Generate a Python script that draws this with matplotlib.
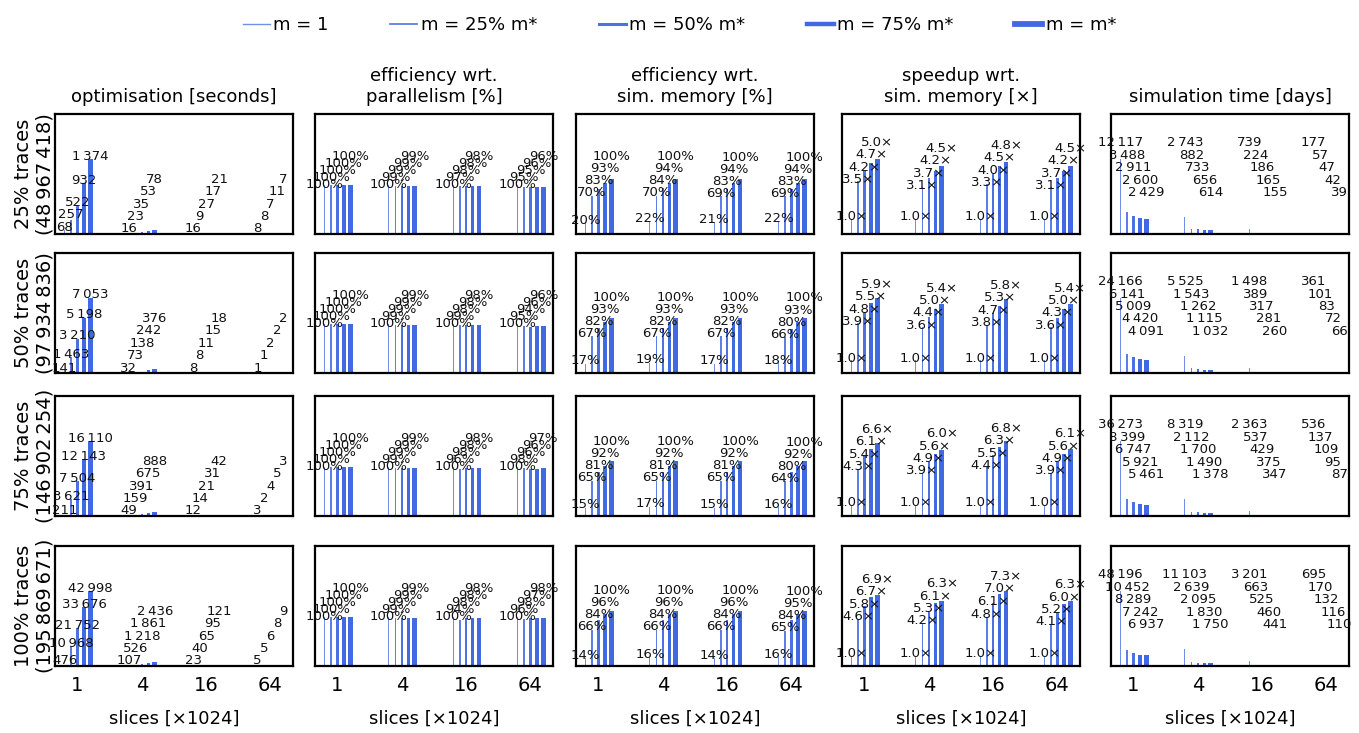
import matplotlib
matplotlib.use('Agg')
import matplotlib.pyplot as plt
from matplotlib.lines import Line2D
import numpy as np

# ---- data -----------------------------------------------------------------
slices = ['1', '4', '16', '64']
m_labels = ['m = 1', 'm = 25% m*', 'm = 50% m*', 'm = 75% m*', 'm = m*']
row_labels = ['25% traces\n(48\u2009967\u2009418)',
              '50% traces\n(97\u2009934\u2009836)',
              '75% traces\n(146\u2009902\u2009254)',
              '100% traces\n(195\u2009869\u2009671)']
col_titles = ['optimisation [seconds]',
              'efficiency wrt.\nparallelism [%]',
              'efficiency wrt.\nsim. memory [%]',
              'speedup wrt.\nsim. memory [\u00d7]',
              'simulation time [days]']

# values[row][slice group][m]
optim_seconds = [
    [[68, 257, 522, 932, 1374], [16, 23, 35, 53, 78], [16, 9, 27, 17, 21], [8, 8, 7, 11, 7]],
    [[141, 1463, 3210, 5198, 7053], [32, 73, 138, 242, 376], [8, 8, 11, 15, 18], [1, 1, 2, 2, 2]],
    [[211, 3621, 7504, 12143, 16110], [49, 159, 391, 675, 888], [12, 14, 21, 31, 42], [3, 2, 4, 5, 3]],
    [[476, 10968, 21752, 33676, 42998], [107, 526, 1218, 1861, 2436], [23, 40, 65, 95, 121], [5, 5, 6, 8, 9]],
]
eff_parallel = [
    [[100, 100, 100, 100, 100], [100, 99, 99, 99, 99], [100, 97, 98, 98, 98], [100, 95, 95, 96, 96]],
    [[100, 100, 100, 100, 100], [100, 99, 99, 99, 99], [100, 99, 98, 98, 98], [100, 95, 94, 96, 96]],
    [[100, 100, 100, 100, 100], [100, 99, 99, 99, 99], [100, 96, 98, 98, 98], [100, 98, 96, 96, 97]],
    [[100, 100, 100, 100, 100], [100, 99, 99, 99, 99], [100, 94, 98, 98, 98], [100, 96, 98, 97, 98]],
]
eff_memory = [
    [[20, 70, 83, 93, 100], [22, 70, 84, 94, 100], [21, 69, 83, 94, 100], [22, 69, 83, 94, 100]],
    [[17, 67, 82, 93, 100], [19, 67, 82, 93, 100], [17, 67, 82, 93, 100], [18, 66, 80, 93, 100]],
    [[15, 65, 81, 92, 100], [17, 65, 81, 92, 100], [15, 65, 81, 92, 100], [16, 64, 80, 92, 100]],
    [[14, 66, 84, 96, 100], [16, 66, 84, 96, 100], [14, 66, 84, 96, 100], [16, 65, 84, 95, 100]],
]
speedup = [
    [[1.0, 3.5, 4.2, 4.7, 5.0], [1.0, 3.1, 3.7, 4.2, 4.5], [1.0, 3.3, 4.0, 4.5, 4.8], [1.0, 3.1, 3.7, 4.2, 4.5]],
    [[1.0, 3.9, 4.8, 5.5, 5.9], [1.0, 3.6, 4.4, 5.0, 5.4], [1.0, 3.8, 4.7, 5.3, 5.8], [1.0, 3.6, 4.3, 5.0, 5.4]],
    [[1.0, 4.3, 5.4, 6.1, 6.6], [1.0, 3.9, 4.9, 5.6, 6.0], [1.0, 4.4, 5.5, 6.3, 6.8], [1.0, 3.9, 4.9, 5.6, 6.1]],
    [[1.0, 4.6, 5.8, 6.7, 6.9], [1.0, 4.2, 5.3, 6.1, 6.3], [1.0, 4.8, 6.1, 7.0, 7.3], [1.0, 4.1, 5.2, 6.0, 6.3]],
]
sim_days = [
    [[12117, 3488, 2911, 2600, 2429], [2743, 882, 733, 656, 614], [739, 224, 186, 165, 155], [177, 57, 47, 42, 39]],
    [[24166, 6141, 5009, 4420, 4091], [5525, 1543, 1262, 1115, 1032], [1498, 389, 317, 281, 260], [361, 101, 83, 72, 66]],
    [[36273, 8399, 6747, 5921, 5461], [8319, 2112, 1700, 1490, 1378], [2363, 537, 429, 375, 347], [536, 137, 109, 95, 87]],
    [[48196, 10452, 8289, 7242, 6937], [11103, 2639, 2095, 1830, 1750], [3201, 663, 525, 460, 441], [695, 170, 132, 116, 110]],
]


def fmt_int(v):
    return f"{v:,}".replace(',', '\u2009')


columns = [
    (optim_seconds, fmt_int),
    (eff_parallel, lambda v: f"{v}%"),
    (eff_memory, lambda v: f"{v}%"),
    (speedup, lambda v: f"{v:.1f}\u00d7"),
    (sim_days, fmt_int),
]

# ---- styling ----------------------------------------------------------------
W, H = 1359, 733
color = 'royalblue'
bar_alpha = [0.75, 0.85, 0.95, 1.0, 1.0]
bar_width = [0.015, 0.025, 0.04, 0.055, 0.07]
bar_offset = [-0.2, -0.1, 0.0, 0.1, 0.2]
legend_lw = [1, 1.3, 2.2, 3.2, 4.2]
ylim_factor = [1.6, 2.45, 2.2, 1.6, 1.6]
label_gap = [12.4, 7.0, 12.0, 12.4, 12.4]   # px between stacked labels
label_off = [3.0, 1.0, 3.0, 2.0, 0.0]       # px above bar top
floor_px = 5.0
col_left = [55, 315, 576, 842, 1111]
row_top = [114, 253, 396, 546]
ax_w, ax_h = 238, 120

fig = plt.figure(figsize=(W / 100, H / 100), dpi=100)
x = np.arange(len(slices))

for r in range(4):
    for c, (data, fmt) in enumerate(columns):
        ax = fig.add_axes([col_left[c] / W, 1 - (row_top[r] + ax_h) / H, ax_w / W, ax_h / H])
        vals = np.array(data[r], dtype=float)
        top = ylim_factor[c] * vals.max()
        for k in range(5):
            ax.bar(x + bar_offset[k], vals[:, k], width=bar_width[k],
                   color=color, alpha=bar_alpha[k], linewidth=0)
        # value labels, stacked so they do not overlap
        for g in range(len(slices)):
            ys = []
            prev = None
            for k in range(5):
                if c == 4:
                    # simulation time: fixed rows, largest on top
                    y = 0.76 * ax_h - k * label_gap[c]
                else:
                    d = vals[g, k] / top * ax_h + label_off[c]
                    y = max(d, floor_px if prev is None else prev + label_gap[c])
                ys.append(y)
                prev = y
            for k in range(5):
                ax.text(x[g] + bar_offset[k], ys[k] / ax_h * top, fmt(data[r][g][k]),
                        ha='center', va='center', fontsize=9.5, color='#111111')
        ax.set_ylim(0, top)
        ax.set_xlim(-0.35, 3.35)
        ax.set_yticks([])
        ax.set_xticks(x)
        ax.tick_params(axis='x', length=0, pad=7, labelsize=14)
        for s in ax.spines.values():
            s.set_linewidth(1.6)
        if r == 3:
            ax.set_xticklabels(slices)
            ax.set_xlabel('slices [\u00d71024]', fontsize=13, labelpad=11)
        else:
            ax.set_xticklabels([])
        if r == 0:
            ax.set_title(col_titles[c], fontsize=13, pad=9)
        if c == 0:
            ax.set_ylabel(row_labels[r], fontsize=14, labelpad=0)

handles = [Line2D([0], [0], color=color, lw=legend_lw[k], alpha=bar_alpha[k]) for k in range(5)]
fig.legend(handles, m_labels, loc='upper center', bbox_to_anchor=(0.5, 1.0), ncol=5,
           frameon=False, fontsize=13, handlelength=1.5, handletextpad=0.2, columnspacing=3.4)

fig.savefig('out.png', dpi=100)
